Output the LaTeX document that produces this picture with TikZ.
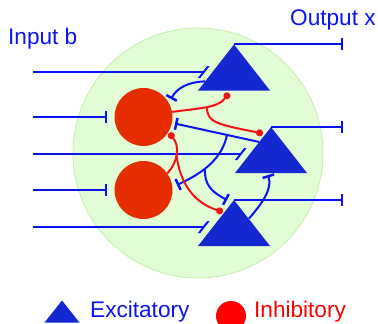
\documentclass[tikz,border=0pt]{standalone}
\usepackage{fontspec}
\setmainfont{Liberation Sans}
\usetikzlibrary{shapes.geometric,arrows.meta,calc}

\definecolor{excblue}{RGB}{20,40,210}
\definecolor{inhred}{RGB}{230,45,0}
\definecolor{lineblue}{RGB}{10,20,240}
\definecolor{linered}{RGB}{240,20,20}
\definecolor{netgreen}{RGB}{226,252,214}
\definecolor{netedge}{RGB}{196,240,170}

\begin{document}
\begin{tikzpicture}[x=1pt, y=-1pt,
    exc/.style = {isosceles triangle, isosceles triangle stretches, shape border rotate=90,
                  minimum width=72pt, minimum height=46pt, inner sep=0pt, fill=excblue},
    inh/.style = {circle, minimum size=58pt, inner sep=0pt, fill=inhred},
    ax/.style = {draw=lineblue, line width=2pt, -{Bar[width=12pt, line width=2.5pt]}},
    axs/.style = {draw=lineblue, line width=2pt, -{Bar[width=12pt, line width=2.5pt, slant=#1]}},
    axr/.style = {draw=linered, line width=2pt, -{Circle[length=7pt]}},
    lbl/.style = {font=\fontsize{22.6}{26}\selectfont, inner sep=0pt, anchor=base west}]
    \useasboundingbox (0,0) rectangle (378,324);
    \clip (0,0) rectangle (378,324);

    \node[circle, minimum size=250pt, inner sep=0pt, fill=netgreen, draw=netedge, line width=0.8pt] (net) at (198,153) {};

    \node[exc, anchor=apex] (e1) at (234,44) {};
    \node[exc, anchor=apex] (e2) at (271,126.5) {};
    \node[exc, anchor=apex] (e3) at (234,199.5) {};
    \node[inh] (i1) at (143.5,117) {};
    \node[inh] (i2) at (143.5,190) {};

    \node[lbl, text=lineblue] (inb) at (8,44) {Input b};
    \node[lbl, text=lineblue] (outx) at (290,26) {Output x};

    % inputs
    \foreach \n/\y in {1/72, 2/117, 3/154, 4/190, 5/227}
        \coordinate (in\n) at (33,\y);
    \coordinate (s1) at (205,72);
    \coordinate (s3) at (242,154);
    \coordinate (s5) at (205,227);
    \draw[axs=0.78] (in1) -- (s1);
    \draw[ax, shorten >=7pt] (in2) -- (i1);
    \draw[axs=0.78] (in3) -- (s3);
    \draw[ax, shorten >=7pt] (in4) -- (i2);
    \draw[axs=0.78] (in5) -- (s5);

    % outputs
    \coordinate (o) at (343,0);
    \draw[ax] (e1.apex) -- (e1.apex -| o);
    \draw[ax] (e2.apex) -- (e2.apex -| o);
    \draw[ax] (e3.apex) -- (e3.apex -| o);

    % excitatory to inhibitory
    \coordinate (s7) at (171,99);
    \draw[ax] ($(e1.apex)!0.8!(e1.left corner)$) .. controls (188,82) and (177,88) .. (s7);
    \coordinate (s9) at (175,123.6);
    \coordinate (b9) at (227,135);
    \draw[ax] ($(e2.apex)!0.33!(e2.left corner)$) -- (s9);
    \coordinate (s10) at (177,185);
    \coordinate (b10) at (205,168.4);
    \coordinate (s11) at (227,200);
    \draw[ax] (b9) .. controls (222,158) and (205,172) .. (s10);
    \draw[ax] (b10) .. controls (204,185) and (212,192) .. (s11);
    \coordinate (s12) at (268,175);
    \draw[ax] ($(e3.apex)!0.41!(e3.right corner)$) .. controls (265,200) and (272,188) .. (s12);

    % inhibitory axons
    \coordinate (d1) at (229,93);
    \coordinate (b1) at (207,107);
    \coordinate (d2) at (263,133.5);
    \draw[axr] (i1.10) .. controls (200,108) and (218,108) .. (d1);
    \draw[axr] (b1) .. controls (207,122) and (215,124) .. (d2);
    \coordinate (d3) at (169,133);
    \coordinate (b2) at (176.4,154);
    \coordinate (d4) at (223,212);
    \draw[axr] (i2.35) .. controls (178,162) and (180,146) .. (d3);
    \draw[axr] (b2) .. controls (180,185) and (195,203) .. (d4);

    % legend
    \node[exc, minimum width=35pt, minimum height=22pt, anchor=apex] (lege) at (62,300) {};
    \node[lbl, text=lineblue] (legetext) at (90,317) {Excitatory};
    \node[circle, minimum size=30pt, inner sep=0pt, fill=red] (legi) at (231,316) {};
    \node[lbl, text=red] (legitext) at (254,317) {Inhibitory};
\end{tikzpicture}
\end{document}
